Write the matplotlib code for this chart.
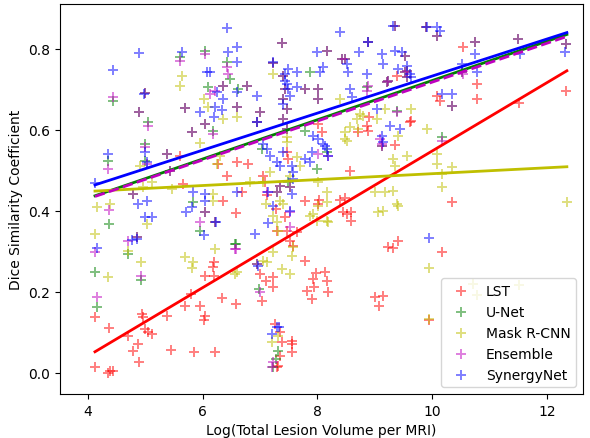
import numpy as np
import matplotlib
matplotlib.use("Agg")
import matplotlib.pyplot as plt

# ---- data (x = log total lesion volume, y = Dice) ----
lst_x = [4.12,4.38,4.12,4.37,4.94,4.96,4.99,5.05,5.11,4.70,4.87,4.78,4.89,4.35,4.44,5.38,5.45,5.85,6.21,5.69,
         5.95,5.79,6.04,6.02,6.33,6.58,6.04,6.20,6.20,6.18,6.58,6.35,7.00,7.10,7.22,7.22,7.03,7.78,7.97,8.13,
         7.92,8.16,7.94,7.82,8.18,7.90,7.26,7.34,7.38,7.55,7.55,7.55,7.34,7.31,7.29,9.23,9.31,9.40,9.00,9.14,
         9.07,8.44,8.51,8.58,8.58,7.43,7.47,7.29,7.52,7.64,7.57,7.28,7.78,8.02,8.39,10.34,10.18,9.94,10.53,10.78,
         10.78,10.08,10.13,9.64,11.51,12.34,9.35,9.61,8.86,8.88,8.70,8.90,9.38,8.08,6.60,6.79,7.05,7.08,7.12,6.68,
         7.48,7.47,8.56,8.01,5.60,6.42,6.26,5.66,8.48,8.01]
lst_y = [0.015,0.005,0.138,0.111,0.146,0.138,0.109,0.101,0.096,0.091,0.072,0.054,0.027,0.000,0.005,0.141,0.057,0.052,0.052,0.165,
         0.165,0.195,0.141,0.131,0.185,0.170,0.240,0.240,0.274,0.262,0.395,0.425,0.244,0.227,0.237,0.212,0.178,0.277,0.247,0.249,
         0.232,0.227,0.212,0.202,0.200,0.183,0.121,0.101,0.077,0.079,0.072,0.052,0.042,0.017,0.015,0.311,0.309,0.326,0.188,0.190,
         0.165,0.398,0.393,0.398,0.375,0.385,0.351,0.351,0.326,0.348,0.314,0.405,0.425,0.427,0.427,0.422,0.299,0.131,0.805,0.714,
         0.677,0.684,0.672,0.622,0.667,0.696,0.563,0.620,0.610,0.598,0.595,0.632,0.733,0.595,0.521,0.516,0.486,0.472,0.440,0.447,
         0.528,0.546,0.499,0.615,0.536,0.486,0.516,0.467,0.432,0.417]

unet_x = [4.44,4.89,5.05,4.99,4.35,4.99,5.38,5.43,4.78,6.04,5.60,5.69,5.81,6.04,6.18,6.09,6.42,6.47,6.35,4.99,
          7.38,7.22,6.61,6.60,6.77,7.00,6.94,7.40,7.43,7.40,7.47,7.40,7.47,7.78,7.87,8.01,8.01,8.16,8.48,8.88,
          8.86,9.21,9.38,9.12,7.99,7.29,7.34,7.78,7.03,7.48,7.52,9.52,9.52,9.57,10.74,10.52,10.34,10.18,11.49,12.33,
          9.35,9.89,10.08,8.16,8.43,9.23,9.56,4.37,4.12,4.16,4.92,4.70,4.85,5.95,6.04,6.21,6.58,5.83,6.94,6.98,
          7.28,7.22,7.31,6.56]
unet_y = [0.672,0.644,0.620,0.565,0.523,0.523,0.541,0.499,0.442,0.795,0.780,0.654,0.595,0.615,0.598,0.706,0.768,0.726,0.709,0.691,
          0.815,0.765,0.701,0.657,0.709,0.644,0.620,0.733,0.701,0.677,0.652,0.627,0.602,0.701,0.743,0.701,0.677,0.795,0.775,0.817,
          0.706,0.719,0.647,0.560,0.504,0.447,0.462,0.598,0.553,0.472,0.459,0.783,0.743,0.731,0.817,0.743,0.659,0.583,0.825,0.812,
          0.857,0.854,0.832,0.546,0.775,0.721,0.746,0.368,0.249,0.163,0.230,0.294,0.336,0.351,0.398,0.373,0.319,0.422,0.269,0.207,
          0.035,0.015,0.054,0.319]

mask_x = [5.64,5.60,6.02,6.09,6.35,5.95,6.25,6.60,4.16,4.38,5.46,4.96,5.11,4.91,6.18,6.30,
          8.39,7.22,7.47,7.47,8.48,8.51,8.69,8.79,9.17,8.70,9.03,9.31,9.35,9.00,9.17,9.31,9.38,8.16,8.01,8.16,
          7.17,7.05,6.82,7.34,7.52,7.64,7.69,9.64,9.91,9.56,10.08,10.08,10.17,10.34,10.18,12.35,8.74,8.56,8.48,9.40,
          7.10,7.40,8.01,7.22,7.31,7.87,8.18,7.22,7.05,7.38,7.52,7.55,6.56,9.05,9.14,9.40,7.21,7.31,
          9.94,10.78,10.71,11.51,9.94,4.12,4.35,4.92,4.70,5.69,5.83,5.81,6.18,6.21,5.03,7.12,7.57,7.29,7.92,7.99,
          8.16,6.60]
mask_y = [0.733,0.709,0.677,0.657,0.627,0.568,0.516,0.632,0.410,0.417,0.454,0.459,0.472,0.511,0.442,0.536,
          0.677,0.738,0.583,0.570,0.595,0.573,0.627,0.635,0.652,0.602,0.627,0.528,0.511,0.447,0.447,0.449,0.417,0.447,0.472,0.422,
          0.496,0.472,0.472,0.425,0.486,0.533,0.511,0.652,0.602,0.536,0.541,0.516,0.491,0.509,0.459,0.422,0.640,0.607,0.578,0.585,
          0.417,0.417,0.412,0.388,0.351,0.388,0.373,0.299,0.277,0.257,0.244,0.289,0.244,0.398,0.400,0.412,0.077,0.091,
          0.259,0.193,0.220,0.217,0.133,0.343,0.237,0.274,0.301,0.286,0.274,0.259,0.425,0.306,0.368,0.274,0.311,0.373,0.393,0.375,
          0.375,0.249]

ens_x = [4.44,4.89,5.05,4.99,4.35,5.03,5.38,5.43,4.78,6.04,5.60,5.69,5.81,6.04,6.18,6.13,6.42,6.44,6.35,6.21,
         6.60,4.99,7.38,7.22,6.77,7.00,6.94,7.40,7.43,7.40,7.47,7.40,7.47,7.78,8.01,8.01,8.16,8.48,8.88,8.86,
         9.21,9.12,8.01,7.29,7.34,7.12,7.52,9.52,9.52,9.57,10.74,10.52,10.34,10.18,11.49,12.33,9.35,9.89,10.08,10.53,
         8.88,9.38,9.09,9.12,8.18,8.43,9.23,9.56,4.37,4.12,4.16,4.92,4.70,4.85,5.95,6.04,6.21,6.58,6.94,7.00,
         7.22,7.21,7.52,7.52,6.56]
ens_y = [0.681,0.644,0.610,0.558,0.504,0.516,0.541,0.499,0.442,0.788,0.770,0.654,0.595,0.615,0.590,0.689,0.756,0.738,0.709,0.696,
         0.657,0.691,0.815,0.765,0.709,0.644,0.620,0.733,0.701,0.677,0.652,0.627,0.602,0.701,0.701,0.677,0.795,0.775,0.817,0.696,
         0.719,0.560,0.541,0.447,0.462,0.447,0.459,0.783,0.743,0.731,0.817,0.743,0.659,0.573,0.825,0.812,0.857,0.854,0.832,0.738,
         0.709,0.644,0.578,0.565,0.536,0.775,0.721,0.746,0.402,0.299,0.188,0.240,0.326,0.336,0.373,0.398,0.373,0.306,0.269,0.200,
         0.027,0.015,0.398,0.360,0.306]

syn_x = [6.42,4.89,4.44,5.64,6.07,6.13,4.98,6.44,6.60,6.60,5.95,6.21,6.35,6.33,6.20,4.35,5.03,4.12,4.87,5.03,
         5.83,6.04,6.04,6.25,6.60,4.99,9.31,8.39,8.88,8.72,9.35,9.12,7.99,7.22,6.60,7.64,7.47,7.48,7.64,8.04,
         8.09,8.51,8.53,8.86,9.14,9.40,9.03,9.26,9.44,9.12,9.14,6.94,7.40,7.52,6.94,7.05,7.12,7.17,7.29,7.34,
         7.40,7.55,7.57,7.57,7.55,7.78,7.90,8.01,7.92,8.16,8.09,7.87,7.14,9.91,10.08,10.13,9.56,9.61,9.64,10.74,
         10.78,10.52,10.18,10.34,11.53,12.31,9.47,7.22,7.52,7.14,6.91,6.96,7.29,7.33,7.21,9.94,4.99,5.11,4.85,4.77,
         4.16,5.71,5.81,6.02,6.23,8.56,8.60,8.13,8.18,7.43,7.43,7.48]
syn_y = [0.852,0.790,0.748,0.793,0.743,0.743,0.689,0.793,0.805,0.694,0.644,0.657,0.677,0.649,0.632,0.541,0.521,0.469,0.417,0.425,
         0.447,0.442,0.425,0.694,0.447,0.546,0.857,0.842,0.817,0.793,0.795,0.788,0.793,0.768,0.768,0.743,0.714,0.701,0.706,0.743,
         0.756,0.763,0.743,0.738,0.763,0.751,0.652,0.610,0.602,0.585,0.570,0.684,0.664,0.684,0.620,0.565,0.553,0.536,0.521,0.511,
         0.546,0.511,0.496,0.479,0.442,0.528,0.546,0.578,0.585,0.553,0.565,0.521,0.447,0.854,0.854,0.844,0.758,0.738,0.731,0.788,
         0.743,0.763,0.689,0.689,0.788,0.793,0.793,0.412,0.400,0.370,0.343,0.264,0.114,0.114,0.096,0.333,0.385,0.385,0.331,0.328,
         0.309,0.398,0.410,0.341,0.373,0.701,0.681,0.560,0.536,0.721,0.738,0.751]

# regression lines: (slope, intercept) per method, over the data range
fit_range = [4.12, 12.35]
lst_fit = (0.0843, -0.295)
unet_fit = (0.0484, 0.238)
mask_fit = (0.0073, 0.419)
ens_fit = (0.0480, 0.238)
syn_fit = (0.0457, 0.276)

series = [
    ("LST", lst_x, lst_y, lst_fit, "r", "-"),
    ("U-Net", unet_x, unet_y, unet_fit, "g", "-"),
    ("Mask R-CNN", mask_x, mask_y, mask_fit, "y", "-"),
    ("Ensemble", ens_x, ens_y, ens_fit, "m", "--"),
    ("SynergyNet", syn_x, syn_y, syn_fit, "b", "-"),
]

fig = plt.figure(figsize=(5.9, 4.39), dpi=100)
ax = fig.add_axes([0.1017, 0.1002, 0.8863, 0.8884])

for name, xs, ys, fit, c, ls in series:
    ax.scatter(xs, ys, marker="+", s=50, linewidths=1.4, color=c, alpha=0.5, label=name, zorder=2)

xr = np.array(fit_range)
for name, xs, ys, fit, c, ls in series:
    ax.plot(xr, fit[0] * xr + fit[1], color=c, linestyle=ls, linewidth=2, zorder=3)

ax.set_xlim(3.51, 12.63)
ax.set_ylim(-0.052, 0.911)
ax.set_xticks([4, 6, 8, 10, 12])
ax.set_yticks([0.0, 0.2, 0.4, 0.6, 0.8])
ax.set_xlabel("Log(Total Lesion Volume per MRI)", fontsize=10)
ax.set_ylabel("Dice Similarity Coefficient", fontsize=10)
ax.tick_params(labelsize=10)
ax.legend(loc="lower right", scatterpoints=1, fontsize=10, framealpha=0.8)

fig.savefig("out.png", dpi=100)
